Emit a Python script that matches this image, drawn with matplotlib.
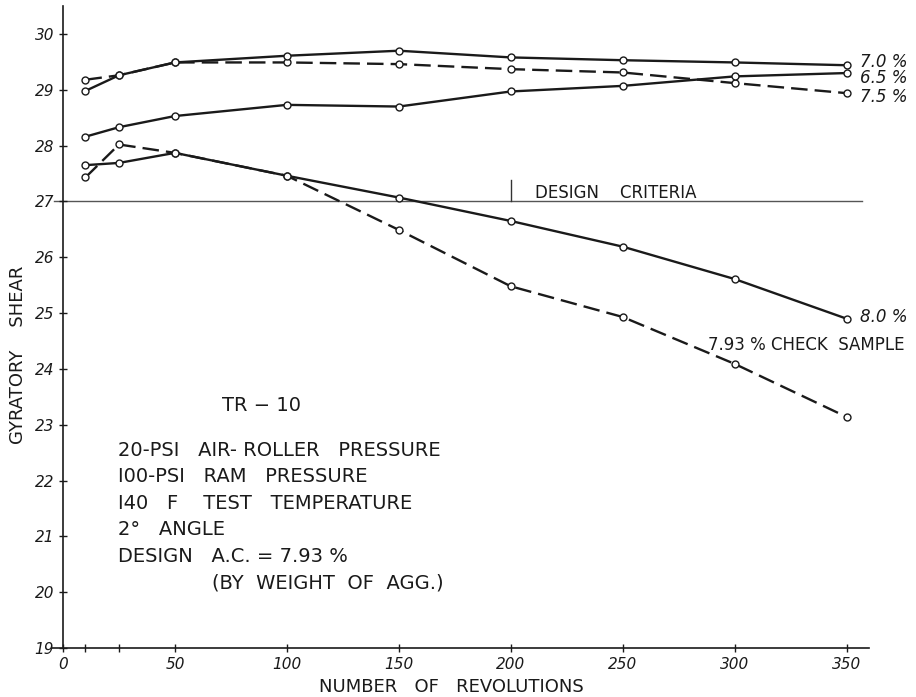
import matplotlib
matplotlib.use("Agg")
import matplotlib.pyplot as plt

revs = [10, 25, 50, 100, 150, 200, 250, 300, 350]

shear_70 = [28.98, 29.26, 29.49, 29.61, 29.70, 29.58, 29.53, 29.49, 29.44]
shear_65 = [28.16, 28.33, 28.53, 28.73, 28.70, 28.97, 29.07, 29.24, 29.30]
shear_75 = [29.18, 29.26, 29.49, 29.49, 29.46, 29.37, 29.31, 29.12, 28.94]
shear_80 = [27.65, 27.69, 27.87, 27.46, 27.07, 26.65, 26.19, 25.61, 24.90]
shear_check = [27.43, 28.02, 27.87, 27.46, 26.49, 25.48, 24.93, 24.09, 23.14]

design_criteria = 27.0
x_ticks = [0, 50, 100, 150, 200, 250, 300, 350]
y_ticks = list(range(19, 31))

notes = [
    "20-PSI   AIR- ROLLER   PRESSURE",
    "I00-PSI   RAM   PRESSURE",
    "I40   F    TEST   TEMPERATURE",
    "2°   ANGLE",
    "DESIGN   A.C. = 7.93 %",
]

ink = "#1a1a1a"
plt.rcParams["font.family"] = "DejaVu Sans"

fig = plt.figure(figsize=(9.16, 6.97), dpi=100)
ax = fig.add_axes([0.0566, 0.0703, 0.892, 0.921])

mk = dict(marker="o", markersize=5, markerfacecolor="white",
          markeredgecolor=ink, markeredgewidth=1.0, color=ink, lw=1.7)
dash = (0, (7, 3))

ax.plot(revs, shear_75, linestyle=dash, **mk)
ax.plot(revs, shear_check, linestyle=dash, **mk)
ax.plot(revs, shear_70, linestyle="-", **mk)
ax.plot(revs, shear_65, linestyle="-", **mk)
ax.plot(revs, shear_80, linestyle="-", **mk)

# design criteria line
ax.plot([-4, 357], [design_criteria, design_criteria], color="#555555", lw=1.0, zorder=1)
ax.plot([200, 200], [design_criteria, 27.38], color="#333333", lw=1.0)
ax.text(211, 27.16, "DESIGN    CRITERIA", fontsize=12, color=ink, va="center", ha="left")

# series labels
lab = dict(fontsize=12, color=ink, style="italic", va="center", ha="left")
ax.text(356, 29.50, "7.0 %", **lab)
ax.text(356, 29.21, "6.5 %", **lab)
ax.text(356, 28.87, "7.5 %", **lab)
ax.text(356, 24.93, "8.0 %", **lab)
ax.text(288, 24.43, "7.93 % CHECK  SAMPLE", fontsize=12, color=ink, va="center", ha="left")

# notes block
ax.text(71, 23.35, "TR − 10", fontsize=14, color=ink, va="center", ha="left")
for i, line in enumerate(notes):
    ax.text(24.6, 22.54 - i * 0.475, line, fontsize=14, color=ink, va="center", ha="left")
ax.text(66.5, 20.16, "(BY  WEIGHT  OF  AGG.)", fontsize=14, color=ink, va="center", ha="left")

ax.set_xlim(-5, 360)
ax.set_ylim(19, 30.5)
ax.spines["left"].set_position(("data", 0))
ax.spines["top"].set_visible(False)
ax.spines["right"].set_visible(False)
for s in ("left", "bottom"):
    ax.spines[s].set_color(ink)
    ax.spines[s].set_linewidth(1.2)

ax.set_xticks(x_ticks)
ax.set_xticks([10, 25], minor=True)
ax.set_yticks(y_ticks)
ax.tick_params(axis="both", which="both", direction="inout", length=6, width=1, color=ink,
               labelsize=11, labelcolor=ink)
for t in ax.get_xticklabels() + ax.get_yticklabels():
    t.set_style("italic")

fig.text(451 / 916, 1 - 687 / 697, "NUMBER   OF   REVOLUTIONS", fontsize=13, color=ink,
         va="center", ha="center")
ax.text(-0.041, 0.456, "GYRATORY    SHEAR", transform=ax.transAxes, rotation=90,
        fontsize=13, color=ink, va="center", ha="center")

fig.savefig("out.png", dpi=100)
